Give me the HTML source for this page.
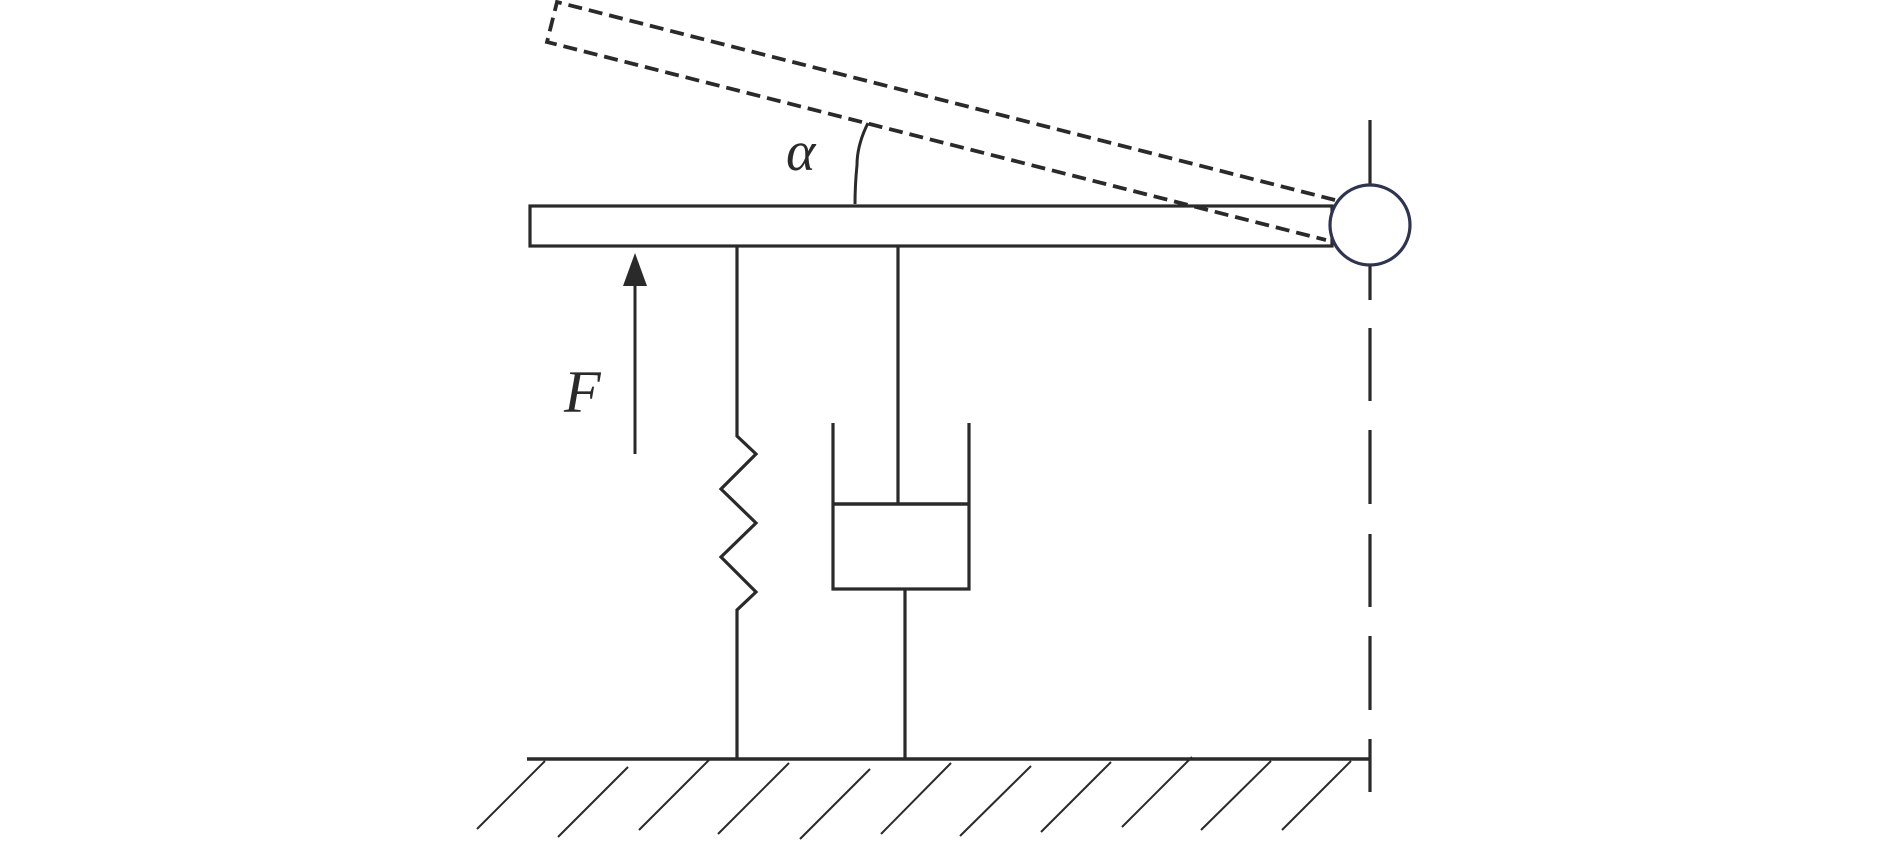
<!DOCTYPE html>
<html><head><style>body{margin:0;background:#fff}svg{display:block}</style></head><body>
<svg width="1890" height="841" viewBox="0 0 1890 841" xmlns="http://www.w3.org/2000/svg">
<g stroke="#2a2a2a" stroke-width="3.2" fill="none">
<path d="M1335,200 L557,2 L547,42 L1326,240" stroke-dasharray="14,7" stroke-width="3.8"/>
<rect x="530" y="206" width="802" height="40"/>
<path d="M868,123 Q857,145 857,165 Q855,185 855,204" stroke-width="3"/>
<path d="M1370,120 V185 M1370,265 V300 M1370,328 V401 M1370,430 V504 M1370,534 V607 M1370,636 V710 M1370,739 V792"/>
<line x1="635" y1="454" x2="635" y2="280" stroke-width="3"/>
<polyline points="737,246 737,436 756,454 721,489 756,523 721,557 756,592 737,610 737,759"/>
<line x1="898" y1="246" x2="898" y2="504"/>
<polyline points="833,423 833,589 969,589 969,423"/>
<line x1="833" y1="504" x2="969" y2="504" stroke-width="3.6"/>
<line x1="905" y1="589" x2="905" y2="759"/>
<line x1="527" y1="759" x2="1370" y2="759" stroke-width="3.6"/>
<g stroke-width="2">
<line x1="477" y1="829" x2="545" y2="761"/>
<line x1="558" y1="837" x2="628" y2="767"/>
<line x1="639" y1="830" x2="709" y2="760"/>
<line x1="718" y1="834" x2="789" y2="763"/>
<line x1="800" y1="839" x2="870" y2="769"/>
<line x1="881" y1="834" x2="951" y2="763"/>
<line x1="960" y1="836" x2="1031" y2="766"/>
<line x1="1041" y1="832" x2="1111" y2="762"/>
<line x1="1122" y1="827" x2="1192" y2="757"/>
<line x1="1201" y1="830" x2="1271" y2="761"/>
<line x1="1282" y1="830" x2="1351" y2="761"/>
</g>
</g>
<polygon points="635,253 623,286 647,286" fill="#2a2a2a"/>
<circle cx="1370" cy="225" r="40" fill="#fff" stroke="#2f3450" stroke-width="3.2"/>
<text x="786" y="170" font-family="Liberation Serif, serif" font-style="italic" font-size="56" fill="#2a2a2a">α</text>
<text x="564" y="412" font-family="Liberation Serif, serif" font-style="italic" font-size="60" fill="#2a2a2a">F</text>
</svg>
</body></html>
